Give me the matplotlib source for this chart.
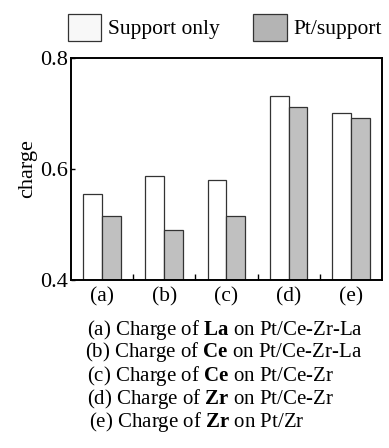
import matplotlib
matplotlib.use("Agg")
import matplotlib.pyplot as plt
from matplotlib.patches import Patch
import numpy as np

plt.rcParams["font.family"] = "Liberation Serif"
plt.rcParams["mathtext.fontset"] = "custom"
plt.rcParams["mathtext.rm"] = "Liberation Serif"
plt.rcParams["mathtext.bf"] = "Liberation Serif:bold"

# ── Data ──────────────────────────────────────────────────────────────────────
categories = ["(a)", "(b)", "(c)", "(d)", "(e)"]
support_only = [0.555, 0.587, 0.580, 0.732, 0.700]
pt_support = [0.516, 0.490, 0.516, 0.712, 0.691]
series_names = ["Support only", "Pt/support"]
captions = [
    r"(a) Charge of $\mathbf{La}$ on Pt/Ce-Zr-La",
    r"(b) Charge of $\mathbf{Ce}$ on Pt/Ce-Zr-La",
    r"(c) Charge of $\mathbf{Ce}$ on Pt/Ce-Zr",
    r"(d) Charge of $\mathbf{Zr}$ on Pt/Ce-Zr",
    r"(e) Charge of $\mathbf{Zr}$ on Pt/Zr",
]

# ── Figure ────────────────────────────────────────────────────────────────────
fig = plt.figure(figsize=(3.89, 4.48), dpi=100)
ax = fig.add_axes([0.182, 0.375, 0.800, 0.496])

x = np.arange(len(categories))
w = 0.3
ax.bar(x - w / 2, support_only, w, color="white", edgecolor="#333333", linewidth=0.9)
ax.bar(x + w / 2, pt_support, w, color="#c0c0c0", edgecolor="#333333", linewidth=0.9)

ax.set_xlim(-0.5, len(categories) - 0.5)
ax.set_ylim(0.4, 0.8)
ax.set_yticks([0.4, 0.6, 0.8])
ax.set_yticklabels(["0.4", "0.6", "0.8"], fontsize=16)
ax.set_xticks(x)
ax.set_xticklabels(categories, fontsize=15.5)
ax.tick_params(axis="x", length=0, pad=5)
ax.set_xticks(x[:-1] + 0.5, minor=True)
ax.tick_params(axis="x", which="minor", direction="in", length=4, width=1)
ax.tick_params(axis="y", direction="in", length=3, width=1, pad=2)
for s in ax.spines.values():
    s.set_linewidth(1.4)

ax.set_ylabel("charge", fontsize=16, labelpad=2)

handles = [
    Patch(facecolor="#f8f8f8", edgecolor="#333333", linewidth=0.9),
    Patch(facecolor="#b4b4b4", edgecolor="#333333", linewidth=0.9),
]
fig.legend(handles, series_names, loc="center", bbox_to_anchor=(0.578, 0.939),
           ncol=2, frameon=False, fontsize=15.5, handlelength=1.55, handleheight=1.55,
           handletextpad=0.33, columnspacing=1.55, borderpad=0)

cap_x = [87, 85, 87, 87, 89]
cap_y = [329.5, 352.5, 375.5, 398.5, 421.5]
for cap, cx, cy in zip(captions, cap_x, cap_y):
    fig.text(cx / 389, 1 - cy / 448, cap, fontsize=15, ha="left", va="center")

fig.savefig("out.png", dpi=100)
